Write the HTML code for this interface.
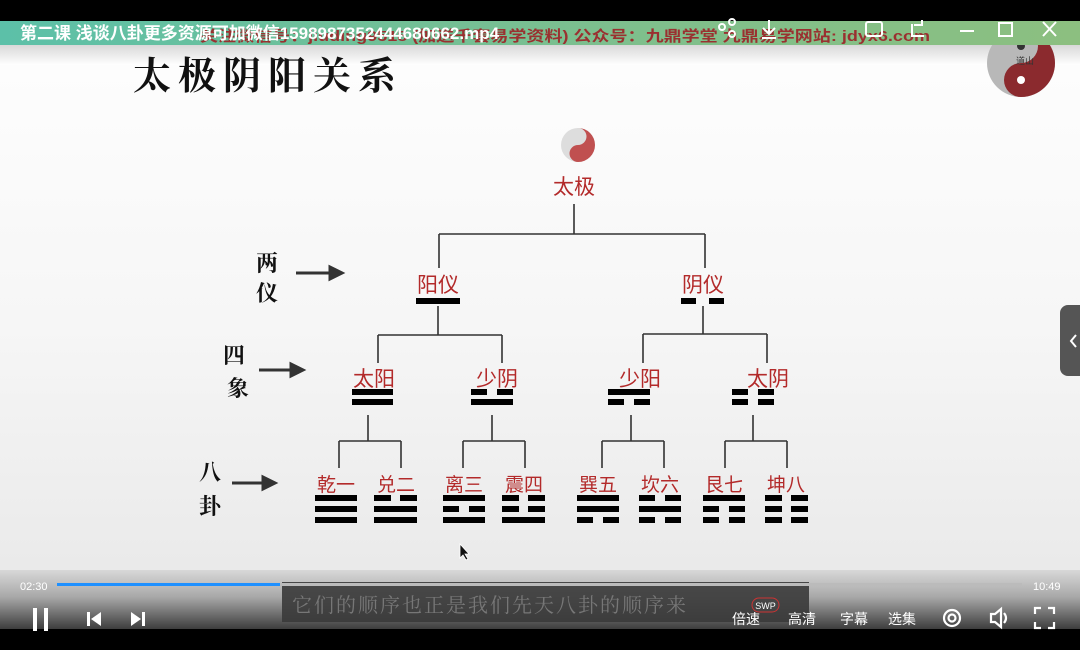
<!DOCTYPE html>
<html><head><meta charset="utf-8"><style>
html,body{margin:0;padding:0;width:1080px;height:650px;overflow:hidden;background:#000}
svg{display:block}
text{font-family:"Liberation Sans","Noto Sans CJK SC",sans-serif}
.s{font-family:"Noto Serif CJK SC","Liberation Serif",serif}
</style></head><body>
<svg width="1080" height="650" viewBox="0 0 1080 650" xmlns="http://www.w3.org/2000/svg">
<defs>
<linearGradient id="bg" x1="0" y1="0" x2="0" y2="1">
<stop offset="0" stop-color="#ffffff"/><stop offset="0.5" stop-color="#f6f6f6"/><stop offset="1" stop-color="#e6e6e6"/>
</linearGradient>
<linearGradient id="top" x1="0" y1="0" x2="1" y2="0">
<stop offset="0" stop-color="#5cc0a8"/><stop offset="0.6" stop-color="#7fbf8c"/><stop offset="1" stop-color="#8cbf80"/>
</linearGradient>
<linearGradient id="bot" x1="0" y1="0" x2="0" y2="1">
<stop offset="0" stop-color="#d8d8d8"/><stop offset="0.45" stop-color="#a8a8a8"/><stop offset="1" stop-color="#3a3a3a"/>
</linearGradient>
<linearGradient id="topfade" x1="0" y1="0" x2="0" y2="1">
<stop offset="0" stop-color="#d8d8d8"/><stop offset="1" stop-color="#ffffff"/>
</linearGradient>
</defs>
<rect width="1080" height="650" fill="url(#bg)"/>
<rect x="0" y="45" width="1080" height="20" fill="url(#topfade)"/>
<!-- logo -->
<circle cx="1021" cy="63" r="34" fill="#b8b8b8"/>
<path d="M1021 29a34 34 0 0 1 0 68a17 17 0 0 1 0-34a17 17 0 0 0 0-34z" fill="#8b2a2e"/>
<circle cx="1021" cy="46" r="4" fill="#333"/><circle cx="1021" cy="80" r="4" fill="#fff"/>
<text x="1016" y="64" font-size="9" fill="#333">道山</text>
<rect x="0" y="0" width="1080" height="21" fill="#000"/>
<rect x="0" y="21" width="1080" height="24" fill="url(#top)"/>
<text x="200" y="41" font-size="15" fill="#9a3030" font-weight="bold" textLength="730" lengthAdjust="spacingAndGlyphs">关注微信号：jiuding9518 (加送千套易学资料)  公众号：九鼎学堂   九鼎易学网站: jdyx6.com</text>
<text x="20" y="39" font-size="17" fill="#fff" font-weight="bold">第二课 浅谈八卦更多资源可加微信1598987352444680662.mp4</text>
<!-- window controls -->
<g stroke="#fff" stroke-width="2" fill="none">
<circle cx="722" cy="27" r="3"/><circle cx="732" cy="22" r="3"/><circle cx="732" cy="34" r="3"/>
<path d="M769 20v14M763 28l6 6 6-6M762 38h14"/>
<rect x="866" y="22" width="16" height="14" rx="2"/>
<path d="M914 25h8v-5M912 24v12h12"/>
<path d="M960 31h14"/><rect x="999" y="23" width="13" height="13"/><path d="M1043 22l13 14M1056 22l-13 14"/>
</g>
<!-- title -->
<text class="s" x="133" y="89" font-size="38" fill="#111" font-weight="bold" letter-spacing="7">太极阴阳关系</text>
<!-- taiji icon -->
<circle cx="578" cy="145" r="17" fill="#ddd"/>
<path d="M578 128a17 17 0 0 1 0 34a8.5 8.5 0 0 1 0-17a8.5 8.5 0 0 0 0-17z" fill="#c05050"/>
<!-- lines -->
<g stroke="#333" stroke-width="1.6" fill="none">
<path d="M574 204V234M439 234H705M439 234V268M705 234V268"/>
<path d="M438 306V335M378 335H502M378 335V363M502 335V363"/>
<path d="M703 306V334M643 334H767M643 334V363M767 334V363"/>
<path d="M368 415V441M339 441H401M339 441V468M401 441V468"/>
<path d="M492 415V441M463 441H525M463 441V468M525 441V468"/>
<path d="M631 415V441M602 441H664M602 441V468M664 441V468"/>
<path d="M753 415V441M725 441H787M725 441V468M787 441V468"/>
</g>
<!-- red labels -->
<g fill="#b32a2a" font-size="21" text-anchor="middle">
<text x="574" y="194">太极</text>
<text x="438" y="292">阳仪</text><text x="703" y="292">阴仪</text>
<text x="374" y="386">太阳</text><text x="497" y="386">少阴</text><text x="640" y="386">少阳</text><text x="768" y="386">太阴</text>
<g font-size="19">
<text x="336" y="491">乾一</text><text x="396" y="491">兑二</text><text x="464" y="491">离三</text><text x="524" y="491">震四</text>
<text x="598" y="491">巽五</text><text x="660" y="491">坎六</text><text x="724" y="491">艮七</text><text x="786" y="491">坤八</text>
</g></g>
<!-- bars -->
<g fill="#000">
<rect x="416" y="298" width="44" height="6"/>
<rect x="681" y="298" width="15" height="6"/><rect x="709" y="298" width="15" height="6"/>
<rect x="352" y="389" width="41" height="6"/><rect x="352" y="399" width="41" height="6"/>
<rect x="471" y="389" width="16" height="6"/><rect x="497" y="389" width="16" height="6"/><rect x="471" y="399" width="42" height="6"/>
<rect x="608" y="389" width="42" height="6"/><rect x="608" y="399" width="16" height="6"/><rect x="634" y="399" width="16" height="6"/>
<rect x="732" y="389" width="16" height="6"/><rect x="758" y="389" width="16" height="6"/><rect x="732" y="399" width="16" height="6"/><rect x="758" y="399" width="16" height="6"/>
</g>
<g fill="#000">
<rect x="315" y="495" width="42" height="6"/><rect x="315" y="506" width="42" height="6"/><rect x="315" y="517" width="42" height="6"/>
<rect x="374" y="495" width="17" height="6"/><rect x="400" y="495" width="17" height="6"/><rect x="374" y="506" width="43" height="6"/><rect x="374" y="517" width="43" height="6"/>
<rect x="443" y="495" width="42" height="6"/><rect x="443" y="506" width="16" height="6"/><rect x="469" y="506" width="16" height="6"/><rect x="443" y="517" width="42" height="6"/>
<rect x="502" y="495" width="17" height="6"/><rect x="528" y="495" width="17" height="6"/><rect x="502" y="506" width="17" height="6"/><rect x="528" y="506" width="17" height="6"/><rect x="502" y="517" width="43" height="6"/>
<rect x="577" y="495" width="42" height="6"/><rect x="577" y="506" width="42" height="6"/><rect x="577" y="517" width="16" height="6"/><rect x="603" y="517" width="16" height="6"/>
<rect x="639" y="495" width="16" height="6"/><rect x="665" y="495" width="16" height="6"/><rect x="639" y="506" width="42" height="6"/><rect x="639" y="517" width="16" height="6"/><rect x="665" y="517" width="16" height="6"/>
<rect x="703" y="495" width="42" height="6"/><rect x="703" y="506" width="16" height="6"/><rect x="729" y="506" width="16" height="6"/><rect x="703" y="517" width="16" height="6"/><rect x="729" y="517" width="16" height="6"/>
<rect x="765" y="495" width="17" height="6"/><rect x="791" y="495" width="17" height="6"/><rect x="765" y="506" width="17" height="6"/><rect x="791" y="506" width="17" height="6"/><rect x="765" y="517" width="17" height="6"/><rect x="791" y="517" width="17" height="6"/>
</g>
<!-- left labels + arrows -->
<g font-size="22" fill="#111" text-anchor="middle" font-weight="bold">
<text class="s" x="267" y="271">两</text><text class="s" x="267" y="301">仪</text>
<text class="s" x="234" y="363">四</text><text class="s" x="238" y="396">象</text>
<text class="s" x="210" y="480">八</text><text class="s" x="210" y="514">卦</text>
</g>
<g stroke="#333" stroke-width="3" fill="#333">
<path d="M296 273H333"/><path d="M342 273l-12-6v12z"/>
<path d="M259 370H294"/><path d="M303 370l-12-6v12z"/>
<path d="M232 483H266"/><path d="M275 483l-12-6v12z"/>
</g>
<path d="M460 544v14l3-3 3 5 2-1-3-5h4z" fill="#111" stroke="#fff" stroke-width="0.8"/>
<rect x="1060" y="305" width="30" height="71" rx="8" fill="#555"/>
<path d="M1076 335l-5 6 5 6" stroke="#fff" stroke-width="2" fill="none"/>
<!-- bottom bar -->
<rect x="0" y="570" width="1080" height="60" fill="url(#bot)"/>
<rect x="0" y="629" width="1080" height="21" fill="#000"/>
<rect x="282" y="582" width="527" height="40" fill="#3a3a3a" opacity="0.9"/>
<rect x="57" y="583" width="965" height="3" fill="#bbb"/>
<rect x="57" y="583" width="223" height="3" fill="#1e90ff"/>
<text x="20" y="590" font-size="11" fill="#fff">02:30</text>
<text x="1033" y="590" font-size="11" fill="#fff">10:49</text>
<text class="s" x="292" y="612" font-size="20" fill="#777" letter-spacing="2">它们的顺序也正是我们先天八卦的顺序来</text>
<rect x="752" y="598" width="27" height="14" rx="7" fill="#444" stroke="#c33" stroke-width="1"/>
<text x="765.5" y="609" font-size="9" fill="#fff" text-anchor="middle">SWP</text>
<g fill="#fff">
<rect x="33" y="608" width="4" height="23"/><rect x="44" y="608" width="4" height="23"/>
<rect x="87" y="612" width="3" height="14"/><path d="M101 612v14l-10-7z"/>
<path d="M131 612v14l10-7z"/><rect x="142" y="612" width="3" height="14"/>
</g>
<g font-size="14" fill="#fff">
<text x="732" y="624">倍速</text><text x="788" y="624">高清</text><text x="840" y="624">字幕</text><text x="888" y="624">选集</text>
</g>
<g stroke="#fff" stroke-width="2.2" fill="none">
<circle cx="952" cy="618" r="8"/><circle cx="952" cy="618" r="3.5"/>
<path d="M991 614h4l6-5v18l-6-5h-4z"/><path d="M1004 613q4 5 0 10"/>
<path d="M1035 614v-6h6M1048 608h6v6M1054 622v6h-6M1041 628h-6v-6"/>
</g>
</svg>
</body></html>
